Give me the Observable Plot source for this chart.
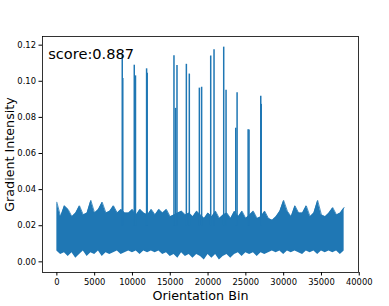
<!DOCTYPE html>
<html>
<head>
<meta charset="utf-8">
<script src="https://cdn.jsdelivr.net/npm/d3@7"></script>
<script src="https://cdn.jsdelivr.net/npm/@observablehq/plot@0.6"></script>
<style>
  html, body { margin: 0; padding: 0; background: #fff; }
  svg { font-family: "DejaVu Sans", sans-serif; }
</style>
</head>
<body>
<div id="chart"></div>
<script>
// Noise band, sampled every 500 orientation bins (0 .. 38000)
const binStep = 500;
const bandHigh = [
  0.033, 0.025, 0.031, 0.029, 0.025, 0.027, 0.031, 0.026, 0.027, 0.034,
  0.027, 0.029, 0.033, 0.027, 0.028, 0.031, 0.027, 0.029, 0.027,
  0.027, 0.029, 0.026, 0.029, 0.027, 0.026, 0.029, 0.026, 0.029, 0.027,
  0.029, 0.025, 0.026, 0.027, 0.028, 0.026, 0.027, 0.025, 0.028,
  0.026, 0.024, 0.027, 0.025, 0.028, 0.024, 0.026, 0.027, 0.024, 0.028,
  0.025, 0.028, 0.024, 0.026, 0.028, 0.024, 0.025, 0.028, 0.024,
  0.023, 0.025, 0.028, 0.034, 0.028, 0.025, 0.031, 0.027, 0.027, 0.031,
  0.025, 0.027, 0.034, 0.026, 0.025, 0.027, 0.030, 0.026, 0.027, 0.030
];
const bandLow = [
  0.006, 0.004, 0.005, 0.003, 0.005, 0.002, 0.004, 0.006, 0.003, 0.005,
  0.004, 0.006, 0.003, 0.005, 0.004, 0.005, 0.006, 0.004, 0.005,
  0.006, 0.005, 0.006, 0.004, 0.006, 0.005, 0.006, 0.005, 0.006, 0.004,
  0.005, 0.003, 0.004, 0.002, 0.005, 0.003, 0.004, 0.002, 0.004,
  0.003, 0.001, 0.004, 0.002, 0.004, 0.001, 0.003, 0.004, 0.002, 0.004,
  0.005, 0.003, 0.005, 0.004, 0.005, 0.003, 0.005, 0.004, 0.005,
  0.006, 0.005, 0.006, 0.004, 0.006, 0.005, 0.006, 0.005, 0.004, 0.006,
  0.005, 0.006, 0.004, 0.006, 0.005, 0.006, 0.005, 0.006, 0.004, 0.006
];
// Isolated peaks: orientation bin and peak intensity
const spikeBins = [8650, 8720, 10240, 10400, 11870, 11950, 15490, 15700, 15890,
  17130, 17520, 18850, 19150, 20350, 20790, 22070, 22380, 23660, 23840,
  25300, 25420, 26970, 27040];
const spikePeaks = [0.1143, 0.1015, 0.1089, 0.103, 0.1069, 0.1045, 0.1141, 0.085, 0.1088,
  0.1094, 0.104, 0.0962, 0.0967, 0.114, 0.1175, 0.1189, 0.095, 0.074, 0.0936,
  0.0731, 0.073, 0.0917, 0.0872];
const xTicks = [0, 5000, 10000, 15000, 20000, 25000, 30000, 35000, 40000];
const yTicks = [0.00, 0.02, 0.04, 0.06, 0.08, 0.10, 0.12];
const scoreText = "score:0.887";
const xLabel = "Orientation Bin";
const yLabel = "Gradient Intensity";

const band = bandHigh.map((h, i) => ({bin: i * binStep, high: h, low: bandLow[i]}));
const spikes = spikeBins.map((b, i) => ({bin: b, peak: spikePeaks[i]}));
const blue = "#1f77b4";

const chart = Plot.plot({
  width: 389,
  height: 306,
  marginLeft: 42,
  marginRight: 31,
  marginTop: 36,
  marginBottom: 34,
  style: {fontFamily: "DejaVu Sans, sans-serif", background: "#fff"},
  x: {domain: [-1900, 39900]},
  y: {domain: [-0.0059, 0.1248]},
  marks: [
    Plot.areaY(band, {x: "bin", y1: "low", y2: "high", fill: blue}),
    Plot.lineY(band, {x: "bin", y: "high", stroke: blue, strokeWidth: 0.8}),
    Plot.ruleX(spikes, {x: "bin", y1: 0.02, y2: "peak", stroke: blue, strokeWidth: 1.5}),
    Plot.frame({stroke: "#000", strokeWidth: 0.8}),
    Plot.axisX({ticks: xTicks, tickFormat: d => String(d), tickSize: 3.5, tickPadding: 3, fontSize: 8.4, label: null}),
    Plot.axisY({ticks: yTicks, tickFormat: d3.format(".2f"), tickSize: 3.5, tickPadding: 3, fontSize: 8.4, label: null}),
    Plot.text([xLabel], {frameAnchor: "bottom", dy: 27, lineAnchor: "bottom", fontSize: 12.7, fill: "#000"}),
    Plot.text([yLabel], {frameAnchor: "left", dx: -28.7, rotate: -90, lineAnchor: "bottom", textAnchor: "middle", fontSize: 12.7, fill: "#000"}),
    Plot.text([scoreText], {frameAnchor: "top-left", dx: 5.7, dy: 22.3, lineAnchor: "bottom", textAnchor: "start", fontSize: 14.6, fill: "#000"})
  ]
});
document.getElementById("chart").appendChild(chart);
</script>
</body>
</html>
